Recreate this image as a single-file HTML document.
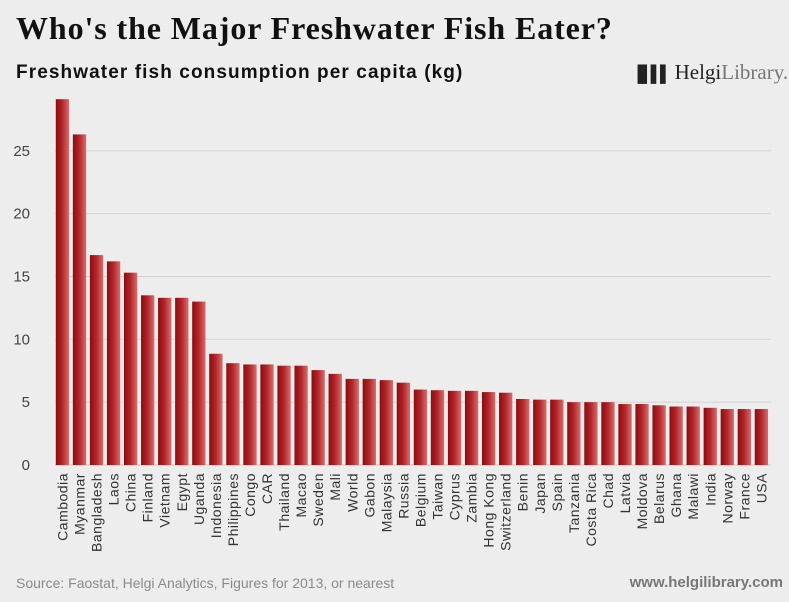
<!DOCTYPE html>
<html><head><meta charset="utf-8"><style>
body{margin:0;background:#ededed;}
#wrap{position:relative;width:789px;height:602px;background:#ededed;font-family:"Liberation Sans",sans-serif;overflow:hidden;}
</style></head><body>
<div id="wrap">
<div style="position:absolute;left:16px;top:10px;font-family:'Liberation Serif',serif;font-weight:bold;font-size:32px;color:#111;letter-spacing:0.9px">Who's the Major Freshwater Fish Eater?</div>
<div style="position:absolute;left:16px;top:62px;font-weight:bold;font-size:19px;color:#111;letter-spacing:1.1px">Freshwater fish consumption per capita (kg)</div>
<div style="position:absolute;left:632px;top:60px;font-family:'Liberation Serif',serif;font-size:21px;color:#222"><span style="font-size:16px;letter-spacing:-2px">▐▌▌▌</span> Helgi<span style="color:#777">Library.</span></div>
<svg id="chart" width="789" height="602" style="position:absolute;left:0;top:0">
<defs><linearGradient id="g" x1="0" x2="1"><stop offset="0" stop-color="#8e0a0e"/><stop offset="0.5" stop-color="#b3282c"/><stop offset="1" stop-color="#d86d6d"/></linearGradient></defs>
</svg>
<div style="position:absolute;left:16px;top:575px;font-size:14px;color:#8a8a8a">Source: Faostat, Helgi Analytics, Figures for 2013, or nearest</div>
<div style="position:absolute;right:6px;top:574px;font-size:15px;font-weight:bold;color:#777">www.helgilibrary.com</div>
</div>
<script>
const categories=["Cambodia","Myanmar","Bangladesh","Laos","China","Finland","Vietnam","Egypt","Uganda","Indonesia","Philippines","Congo","CAR","Thailand","Macao","Sweden","Mali","World","Gabon","Malaysia","Russia","Belgium","Taiwan","Cyprus","Zambia","Hong Kong","Switzerland","Benin","Japan","Spain","Tanzania","Costa Rica","Chad","Latvia","Moldova","Belarus","Ghana","Malawi","India","Norway","France","USA"];
const values=[29.1,26.3,16.7,16.2,15.3,13.5,13.3,13.3,13.0,8.85,8.1,8.0,8.0,7.9,7.9,7.55,7.25,6.85,6.85,6.75,6.55,6.0,5.95,5.9,5.9,5.8,5.75,5.25,5.2,5.2,5.0,5.0,5.0,4.85,4.85,4.75,4.65,4.65,4.55,4.45,4.45,4.45];
const yTicks=[0,5,10,15,20,25];
const NS="http://www.w3.org/2000/svg";
const svg=document.getElementById('chart');
const x0=55,x1=771,yBase=465,pxPerUnit=12.57;
const step=(x1-x0)/categories.length,bw=13.3;
const y=v=>yBase-v*pxPerUnit;
const xb=i=>x0+i*step+0.8;
function mk(t,a){const e=document.createElementNS(NS,t);for(const k in a)e.setAttribute(k,a[k]);svg.appendChild(e);return e;}
yTicks.forEach(t=>{
  const l=mk('line',{x1:x0,x2:x1,y1:y(t),y2:y(t),stroke:t===0?'#c8c8c8':'#d3d3d3','stroke-width':1});
  
  
  const tx=mk('text',{x:30,y:y(t)+5,'text-anchor':'end','font-size':15,fill:'#444','font-family':'Liberation Sans, sans-serif'});
  tx.textContent=t;
  
  
});
categories.forEach((c,i)=>{
  const r=mk('rect',{x:xb(i),y:y(values[i]),width:bw,height:values[i]*pxPerUnit,fill:'url(#g)'});
  
  
  const cx=xb(i)+bw/2+5;
  const t=mk('text',{x:cx,y:473,transform:`rotate(-90 ${cx} 473)`,'text-anchor':'end','font-size':14,'letter-spacing':0.5,fill:'#333','font-family':'Liberation Sans, sans-serif'});
  t.textContent=c;
  
  
});
</script>
</body></html>
